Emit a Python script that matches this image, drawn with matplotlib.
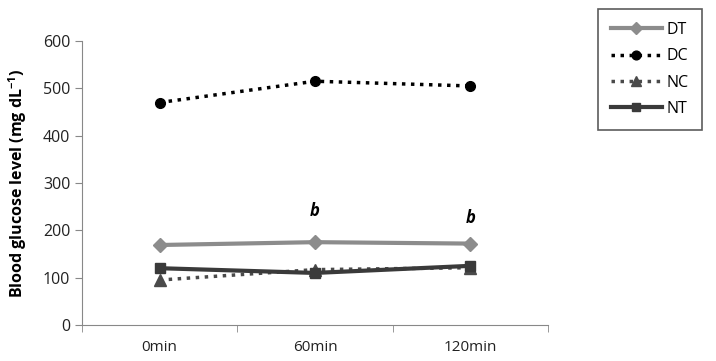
import matplotlib
matplotlib.use("Agg")
import matplotlib.pyplot as plt
import numpy as np

plt.rcParams['font.family'] = ['Open Sans', 'DejaVu Sans']

times = ["0min", "60min", "120min"]
dt = [169, 175, 172]
dc = [470, 515, 505]
nc = [95, 117, 121]
nt = [120, 110, 125]
sig_labels = ["", "b", "b"]
sig_heights = [None, 240, 225]

fig = plt.figure(figsize=(7.16, 3.61), dpi=100)
ax = fig.add_axes([82 / 716, 1 - 325 / 361, (548 - 82) / 716, (325 - 41) / 361])

x = np.arange(len(times))
l1, = ax.plot(x, dt, color="#8c8c8c", lw=3, marker="D", ms=7, label="DT")
l2, = ax.plot(x, dc, color="black", lw=2.5, ls=(0, (1, 1.6)), marker="o", ms=7, label="DC")
l3, = ax.plot(x, nc, color="#4a4a4a", lw=2.5, ls=(0, (1, 1.6)), marker="^", ms=8, label="NC")
l4, = ax.plot(x, nt, color="#3a3a3a", lw=3, marker="s", ms=7, label="NT")

for xi, lab, h in zip(x, sig_labels, sig_heights):
    if lab:
        ax.text(xi, h, lab, ha="center", va="center", fontsize=12,
                fontweight="bold", style="italic")

ax.set_xlim(-0.5, 2.5)
ax.set_ylim(0, 600)
ax.set_yticks(range(0, 601, 100))
ax.set_xticks(x)
ax.set_xticklabels(times)
ax.set_xticks([-0.5, 0.5, 1.5, 2.5], minor=True)
ax.tick_params(axis="x", which="major", length=0, pad=11, labelsize=11, colors="#222222")
ax.tick_params(axis="x", which="minor", length=5, color="#888888", direction="out")
ax.tick_params(axis="y", length=5, color="#888888", labelsize=11.5, colors="#222222")
for s in ["top", "right"]:
    ax.spines[s].set_visible(False)
for s in ["left", "bottom"]:
    ax.spines[s].set_color("#888888")
ax.set_ylabel("Blood glucose level (mg dL$^{\\mathregular{-1}}$)", fontsize=11.5,
              fontweight="bold", labelpad=10)

leg = fig.legend(handles=[l1, l2, l3, l4], loc="upper left",
                 bbox_to_anchor=(598 / 716, 1 - 9 / 361), fontsize=11.5,
                 frameon=True, fancybox=False, edgecolor="#333333",
                 handlelength=3.2, labelspacing=0.65, borderpad=0.8,
                 handletextpad=0.3, borderaxespad=0, markerscale=0.9)
leg.get_frame().set_linewidth(1.2)

plt.savefig("out.png", dpi=100)
